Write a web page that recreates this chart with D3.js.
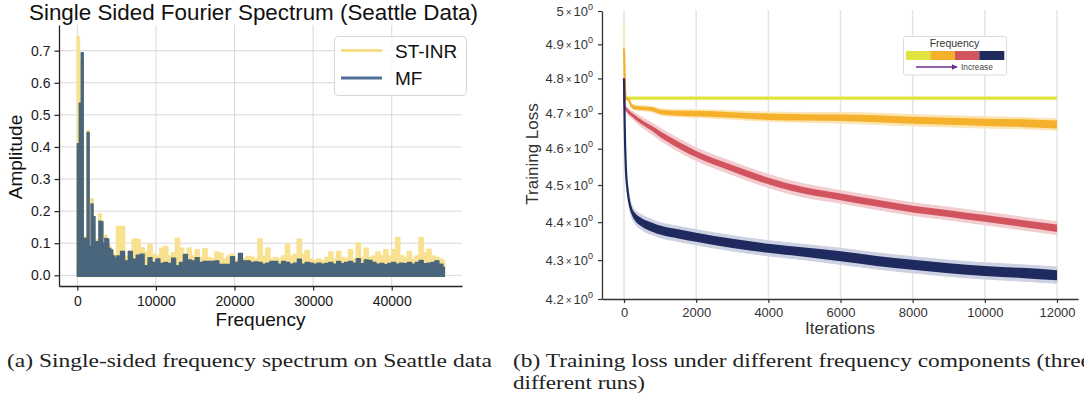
<!DOCTYPE html>
<html>
<head>
<meta charset="utf-8">
<script src="https://cdn.jsdelivr.net/npm/d3@7"></script>
<style>
  body { margin: 0; background: #fff; }
  svg { display: block; }
</style>
</head>
<body>
<svg id="fig" width="1084" height="405"></svg>
<script>
// ---------- data: (a) spectrum ----------
// 250 Hz bins below 5 kHz, 500 Hz bins from 5 kHz up to the end of the spectrum
const lowStep = 250, highStep = 500, lowEnd = 5000, specEnd = 46700;
const stinrLow = [0.744, 0.54, 0.67, 0.12, 0.12, 0.45, 0.10, 0.238, 0.12, 0.11,
                  0.11, 0.191, 0.17, 0.124, 0.124, 0.10, 0.09, 0.08, 0.065, 0.06];
const mfLow = [0.41, 0.536, 0.694, 0.115, 0.115, 0.445, 0.09, 0.222, 0.183, 0.105,
               0.105, 0.169, 0.167, 0.10, 0.115, 0.113, 0.084, 0.079, 0.06, 0.053];
const stinrHigh = [0.152, 0.152, 0.058, 0.075, 0.113, 0.11, 0.085, 0.072, 0.095, 0.065,
                   0.06, 0.084, 0.089, 0.06, 0.07, 0.115, 0.084, 0.06, 0.084, 0.06,
                   0.079, 0.055, 0.082, 0.055, 0.05, 0.072, 0.068, 0.05, 0.06, 0.065,
                   0.045, 0.05, 0.052, 0.058, 0.056, 0.05, 0.113, 0.06, 0.084, 0.05,
                   0.055, 0.05, 0.06, 0.096, 0.06, 0.065, 0.112, 0.065, 0.077, 0.05,
                   0.045, 0.05, 0.045, 0.055, 0.072, 0.05, 0.074, 0.055, 0.05, 0.079,
                   0.05, 0.10, 0.055, 0.084, 0.055, 0.06, 0.072, 0.06, 0.079, 0.06,
                   0.079, 0.117, 0.06, 0.055, 0.074, 0.05, 0.06, 0.117, 0.07, 0.081,
                   0.06, 0.055, 0.05, 0.045];
const mfHigh = [0.06, 0.074, 0.045, 0.074, 0.05, 0.063, 0.066, 0.03, 0.055, 0.04,
                0.051, 0.037, 0.04, 0.037, 0.053, 0.03, 0.04, 0.065, 0.048, 0.045,
                0.055, 0.04, 0.043, 0.043, 0.043, 0.045, 0.034, 0.034, 0.034, 0.058,
                0.04, 0.068, 0.045, 0.045, 0.04, 0.042, 0.04, 0.035, 0.038, 0.043,
                0.043, 0.035, 0.043, 0.04, 0.035, 0.038, 0.05, 0.035, 0.04, 0.038,
                0.035, 0.038, 0.035, 0.037, 0.04, 0.035, 0.043, 0.036, 0.04, 0.043,
                0.038, 0.052, 0.036, 0.048, 0.046, 0.04, 0.035, 0.037, 0.033, 0.037,
                0.04, 0.035, 0.038, 0.036, 0.04, 0.035, 0.04, 0.046, 0.036, 0.038,
                0.04, 0.045, 0.035, 0.025];
const specNames = ["ST-INR", "MF"];
const ampTicks = [0, 0.1, 0.2, 0.3, 0.4, 0.5, 0.6, 0.7];
const freqTicks = [0, 10000, 20000, 30000, 40000];

// ---------- data: (b) training loss ----------
const lossIters = [0, 20, 50, 100, 150, 200, 300, 500, 800, 1000, 1500, 2000,
                   3000, 4000, 5000, 6000, 7000, 8000, 9000, 10000, 11000, 12000];
const lossYellow = [4.743, 4.743, 4.743, 4.743, 4.743, 4.743, 4.743, 4.743, 4.743, 4.743, 4.743,
                    4.743, 4.743, 4.743, 4.743, 4.743, 4.743, 4.743, 4.743, 4.743, 4.743, 4.743];
const lossOrange = [4.888, 4.80, 4.742, 4.741, 4.735, 4.722, 4.716, 4.714, 4.711, 4.704, 4.700,
                    4.699, 4.695, 4.690, 4.688, 4.687, 4.684, 4.680, 4.677, 4.674, 4.672, 4.668];
const lossRed = [4.80, 4.72, 4.713, 4.707, 4.701, 4.697, 4.689, 4.674, 4.655, 4.641, 4.611,
                 4.585, 4.546, 4.511, 4.485, 4.468, 4.451, 4.435, 4.423, 4.410, 4.397, 4.384];
const lossNavy = [4.80, 4.66, 4.55, 4.485, 4.452, 4.433, 4.415, 4.399, 4.386, 4.379, 4.369,
                  4.360, 4.344, 4.331, 4.321, 4.310, 4.298, 4.288, 4.279, 4.272, 4.267, 4.261];
// half thickness of the noisy mean curve, and half width of the three-run band
const noiseYellow = [0.003, 0.003, 0.003, 0.003, 0.003, 0.003, 0.003, 0.003, 0.003, 0.003, 0.003,
                     0.003, 0.003, 0.003, 0.003, 0.003, 0.003, 0.003, 0.003, 0.003, 0.003, 0.003];
const noiseOrange = [0.003, 0.003, 0.003, 0.003, 0.004, 0.004, 0.005, 0.005, 0.006, 0.006, 0.007,
                     0.008, 0.008, 0.009, 0.009, 0.009, 0.010, 0.010, 0.010, 0.010, 0.011, 0.011];
const noiseRed = [0.003, 0.004, 0.004, 0.005, 0.005, 0.005, 0.006, 0.006, 0.007, 0.008, 0.009,
                  0.009, 0.009, 0.009, 0.009, 0.009, 0.009, 0.009, 0.009, 0.009, 0.009, 0.010];
const noiseNavy = [0.003, 0.005, 0.006, 0.007, 0.008, 0.009, 0.010, 0.011, 0.012, 0.012, 0.012,
                   0.012, 0.012, 0.012, 0.012, 0.013, 0.013, 0.013, 0.013, 0.013, 0.013, 0.013];
const spreadYellow = [0, 0, 0, 0, 0, 0, 0, 0, 0, 0, 0, 0, 0, 0, 0, 0, 0, 0, 0, 0, 0, 0];
const spreadOrange = [0.08, 0.004, 0.004, 0.005, 0.006, 0.006, 0.007, 0.007, 0.008, 0.009, 0.010,
                      0.011, 0.012, 0.013, 0.014, 0.015, 0.016, 0.016, 0.016, 0.016, 0.016, 0.016];
const spreadRed = [0.003, 0.006, 0.008, 0.009, 0.010, 0.010, 0.012, 0.014, 0.016, 0.017, 0.018,
                   0.018, 0.018, 0.018, 0.018, 0.017, 0.017, 0.017, 0.017, 0.017, 0.017, 0.017];
const spreadNavy = [0.003, 0.010, 0.012, 0.014, 0.016, 0.017, 0.018, 0.020, 0.020, 0.020, 0.020,
                    0.020, 0.020, 0.020, 0.020, 0.021, 0.021, 0.021, 0.021, 0.021, 0.021, 0.021];
const lossTicks = [4.2, 4.3, 4.4, 4.5, 4.6, 4.7, 4.8, 4.9, 5.0];
const iterTicks = [0, 2000, 4000, 6000, 8000, 10000, 12000];
const freqColors = ["#e1e43e", "#f5b12c", "#d2545f", "#1f2a5f"];
const bandColors = ["#eef0a8", "#fce5b4", "#f3ccd0", "#cdd1e2"];

const svg = d3.select("#fig");
const sans = "'Liberation Sans', Arial, sans-serif";

// ================= (a) spectrum =================
const xSpec = d3.scaleLinear().domain([-2330, 48940]).range([59, 462]);
const ySpec = d3.scaleLinear().domain([-0.0333, 0.780]).range([286, 25]);

const left = svg.append("g").attr("font-family", sans);

// grid
left.append("g").selectAll("line").data(freqTicks).join("line")
  .attr("x1", d => xSpec(d)).attr("x2", d => xSpec(d))
  .attr("y1", 25).attr("y2", 286)
  .attr("stroke", "#d8d8d8").attr("stroke-width", 1);
left.append("g").selectAll("line").data(ampTicks).join("line")
  .attr("x1", 59).attr("x2", 462)
  .attr("y1", d => ySpec(d)).attr("y2", d => ySpec(d))
  .attr("stroke", "#d8d8d8").attr("stroke-width", 1);

function specPoints(low, high) {
  const pts = low.map((v, i) => [i * lowStep, v]);
  high.forEach((v, i) => pts.push([lowEnd + i * highStep, v]));
  pts.push([specEnd, high[high.length - 1]]);
  return pts;
}
const specArea = d3.area()
  .x(d => xSpec(d[0]))
  .y0(ySpec(0) + 1)
  .y1(d => ySpec(d[1]))
  .curve(d3.curveStepAfter);

left.append("path").datum(specPoints(stinrLow, stinrHigh))
  .attr("d", specArea).attr("fill", "#f8e190")
  .attr("stroke", "#f8e190").attr("stroke-width", 1.8).attr("stroke-linejoin", "round");
left.append("path").datum(specPoints(mfLow, mfHigh))
  .attr("d", specArea).attr("fill", "#4a667c")
  .attr("stroke", "#4a667c").attr("stroke-width", 1.4).attr("stroke-linejoin", "round");

// axes
const axSpecX = left.append("g").attr("transform", "translate(0,286)")
  .call(d3.axisBottom(xSpec).tickValues(freqTicks).tickFormat(d3.format("d"))
    .tickSize(4.5).tickPadding(6).tickSizeOuter(0));
const axSpecY = left.append("g").attr("transform", "translate(59,0)")
  .call(d3.axisLeft(ySpec).tickValues(ampTicks).tickFormat(d3.format(".1f"))
    .tickSize(4.5).tickPadding(4).tickSizeOuter(0));
[axSpecX, axSpecY].forEach(ax => {
  ax.selectAll("text").attr("font-size", 14).attr("font-family", sans).attr("fill", "#1a1a1a");
  ax.selectAll("line").attr("stroke", "#222").attr("stroke-width", 1.2);
  ax.select(".domain").attr("stroke", "#222").attr("stroke-width", 1.3);
});

left.append("text").attr("x", 29).attr("y", 20)
  .attr("font-size", 22).attr("fill", "#111")
  .attr("textLength", 449).attr("lengthAdjust", "spacingAndGlyphs")
  .text("Single Sided Fourier Spectrum (Seattle Data)");
left.append("text").attr("x", 260.5).attr("y", 326)
  .attr("text-anchor", "middle").attr("font-size", 19).attr("fill", "#111")
  .text("Frequency");
left.append("text").attr("transform", "translate(22,157) rotate(-90)")
  .attr("text-anchor", "middle").attr("font-size", 19).attr("fill", "#111")
  .text("Amplitude");

// legend
const legA = left.append("g");
legA.append("rect").attr("x", 334.5).attr("y", 36.5).attr("width", 132).attr("height", 59)
  .attr("rx", 4).attr("fill", "#fff").attr("fill-opacity", 0.85)
  .attr("stroke", "#d6d6d6").attr("stroke-width", 1);
const legColors = ["#f6df8a", "#4f6f97"];
const legY = [50.5, 78];
specNames.forEach((name, i) => {
  legA.append("line").attr("x1", 341).attr("x2", 382).attr("y1", legY[i]).attr("y2", legY[i])
    .attr("stroke", legColors[i]).attr("stroke-width", 3.2);
  legA.append("text").attr("x", 395).attr("y", legY[i] + 7)
    .attr("font-size", 19).attr("fill", "#111").text(name);
});

// ================= (b) training loss =================
const xLoss = d3.scaleLinear().domain([-610, 12582]).range([602, 1078]);
const yLoss = d3.scaleLog().domain([4.2, 5.0]).range([299, 11]);

const right = svg.append("g").attr("font-family", sans);

right.append("g").selectAll("line").data(iterTicks).join("line")
  .attr("x1", d => xLoss(d)).attr("x2", d => xLoss(d))
  .attr("y1", 10).attr("y2", 299)
  .attr("stroke", "#e4e4e4").attr("stroke-width", 1.5);

const series = [
  { v: lossYellow, n: noiseYellow, s: spreadYellow },
  { v: lossOrange, n: noiseOrange, s: spreadOrange },
  { v: lossRed, n: noiseRed, s: spreadRed },
  { v: lossNavy, n: noiseNavy, s: spreadNavy }
];
const band = (vals, half) => d3.area()
  .x((d, i) => xLoss(lossIters[i]))
  .y0((d, i) => yLoss(vals[i] - half[i]))
  .y1((d, i) => yLoss(vals[i] + half[i]))
  .curve(d3.curveMonotoneX)(lossIters);
const mid = vals => d3.line()
  .x((d, i) => xLoss(lossIters[i]))
  .y((d, i) => yLoss(vals[i]))
  .curve(d3.curveMonotoneX)(lossIters);

series.forEach((s, k) => {
  right.append("path").attr("d", band(s.v, s.s))
    .attr("fill", bandColors[k]).attr("stroke", bandColors[k]).attr("stroke-width", 1);
});
series.forEach((s, k) => {
  right.append("path").attr("d", band(s.v, s.n)).attr("fill", freqColors[k]);
  right.append("path").attr("d", mid(s.v)).attr("fill", "none")
    .attr("stroke", freqColors[k]).attr("stroke-width", k === 0 ? 3.4 : 2.2);
});

const axLossX = right.append("g").attr("transform", "translate(0,299)")
  .call(d3.axisBottom(xLoss).tickValues(iterTicks).tickFormat(d3.format("d"))
    .tickSize(4).tickPadding(4.5).tickSizeOuter(0));
const axLossY = right.append("g").attr("transform", "translate(602,0)")
  .call(d3.axisLeft(yLoss).tickValues(lossTicks).tickSize(4).tickPadding(5).tickSizeOuter(0));
[axLossX, axLossY].forEach(ax => {
  ax.selectAll("text").attr("font-size", 13).attr("font-family", sans).attr("fill", "#333");
  ax.selectAll("line").attr("stroke", "#333").attr("stroke-width", 1.2);
  ax.select(".domain").attr("stroke", "#333").attr("stroke-width", 1.3);
});
axLossY.selectAll("text").each(function (d) {
  const t = d3.select(this).text(null);
  t.append("tspan").text(String(+d.toFixed(1)));
  t.append("tspan").attr("font-size", 10).attr("dx", 2).text("×");
  t.append("tspan").attr("dx", 2).text("10");
  t.append("tspan").attr("font-size", 9).attr("dy", -6).text("0");
});

right.append("text").attr("x", 840).attr("y", 334)
  .attr("text-anchor", "middle").attr("font-size", 17).attr("fill", "#333")
  .text("Iterations");
right.append("text").attr("transform", "translate(538,154) rotate(-90)")
  .attr("text-anchor", "middle").attr("font-size", 17).attr("fill", "#333")
  .text("Training Loss");

// frequency legend
const legB = right.append("g");
legB.append("rect").attr("x", 903.5).attr("y", 36.5).attr("width", 103).attr("height", 38.5)
  .attr("rx", 2).attr("fill", "#fff").attr("stroke", "#dcdcdc").attr("stroke-width", 1);
legB.append("text").attr("x", 954.5).attr("y", 47).attr("text-anchor", "middle")
  .attr("font-size", 10.5).attr("fill", "#333").text("Frequency");
const segX = d3.scaleBand().domain(d3.range(freqColors.length)).range([906, 1004]);
legB.selectAll("rect.seg").data(freqColors).join("rect").attr("class", "seg")
  .attr("x", (d, i) => segX(i)).attr("width", segX.bandwidth() + 0.3)
  .attr("y", 51).attr("height", 9).attr("fill", d => d);
svg.append("defs").append("marker").attr("id", "arrow")
  .attr("viewBox", "0 0 10 10").attr("refX", 9).attr("refY", 5)
  .attr("markerWidth", 5).attr("markerHeight", 4).attr("orient", "auto")
  .append("path").attr("d", "M0,0L10,5L0,10z").attr("fill", "#6b2c91");
legB.append("line").attr("x1", 916).attr("x2", 957).attr("y1", 67).attr("y2", 67)
  .attr("stroke", "#6b2c91").attr("stroke-width", 1.4).attr("marker-end", "url(#arrow)");
legB.append("text").attr("x", 961).attr("y", 70).attr("font-size", 8.3)
  .attr("fill", "#444").text("Increase");

// ================= captions =================
const serif = "'Liberation Serif', 'DejaVu Serif', serif";
const cap = svg.append("g").attr("font-family", serif).attr("font-size", 19.5).attr("fill", "#222");
cap.append("text").attr("x", 7).attr("y", 367)
  .attr("textLength", 485).attr("lengthAdjust", "spacingAndGlyphs")
  .text("(a) Single-sided frequency spectrum on Seattle data");
cap.append("text").attr("x", 513).attr("y", 367)
  .attr("textLength", 578).attr("lengthAdjust", "spacingAndGlyphs")
  .text("(b) Training loss under different frequency components (three");
cap.append("text").attr("x", 513).attr("y", 389)
  .attr("textLength", 132).attr("lengthAdjust", "spacingAndGlyphs")
  .text("different runs)");
</script>
</body>
</html>
